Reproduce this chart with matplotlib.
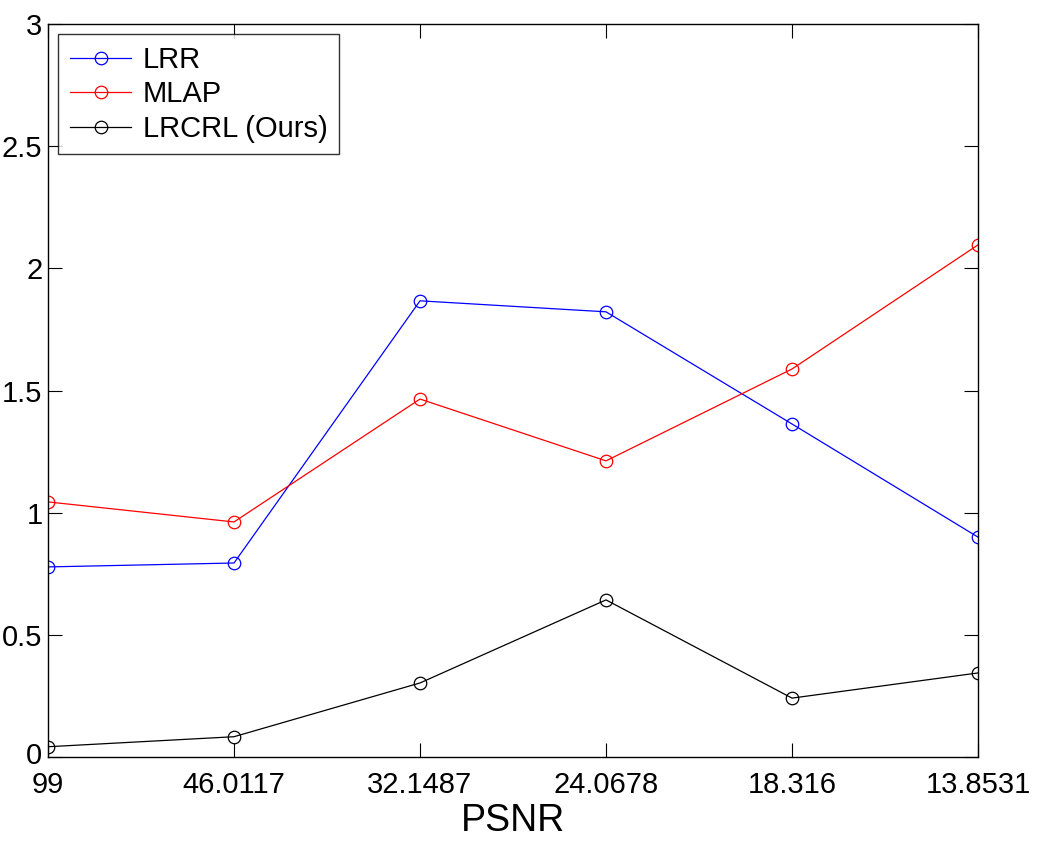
import numpy as np
import matplotlib.pyplot as plt
import matplotlib.transforms as mtransforms

plt.rcParams['font.family'] = ['Liberation Sans', 'DejaVu Sans']

# PSNR levels (categorical x axis)
psnr_labels = ["99", "46.0117", "32.1487", "24.0678", "18.316", "13.8531"]
lrr = [0.778, 0.794, 1.867, 1.822, 1.363, 0.900]
mlap = [1.044, 0.962, 1.465, 1.212, 1.588, 2.096]
lrcrl = [0.042, 0.083, 0.303, 0.643, 0.241, 0.344]

x = np.arange(len(psnr_labels))

fig = plt.figure(figsize=(10.38, 8.42), dpi=100)
ax = fig.add_axes([48/1038, 1-757/842, (978-48)/1038, (757-24)/842])

style = dict(marker='o', markersize=9, markerfacecolor='none', linewidth=0.9, markeredgewidth=0.9)
ax.plot(x, lrr, color='blue', label='LRR', **style)
ax.plot(x, mlap, color='red', label='MLAP', **style)
ax.plot(x, lrcrl, color='black', label='LRCRL (Ours)', **style)

ax.set_xlim(0, 5)
ax.set_ylim(0, 3)
ax.set_xticks(x)
ax.set_xticklabels(psnr_labels)
ax.set_yticks(np.arange(0, 3.01, 0.5))
ax.set_yticklabels(["0", "0.5", "1", "1.5", "2", "2.5", "3"])
ax.tick_params(direction='in', length=10, width=0.8, top=True, right=True,
               labelsize=21)
ax.tick_params(axis='x', pad=10)
ax.tick_params(axis='y', pad=4)
for s in ax.spines.values():
    s.set_linewidth(1.0)

# nudge the "0" y label up a little so it doesn't collide with "99"
lbl0 = ax.get_yticklabels()[0]
lbl0.set_transform(lbl0.get_transform() +
                   mtransforms.ScaledTranslation(0, 4/100, fig.dpi_scale_trans))

ax.set_xlabel("PSNR", fontsize=27, labelpad=3)

leg = ax.legend(loc='upper left', fontsize=21, frameon=True, fancybox=False,
                edgecolor='black', borderaxespad=0.35, handlelength=2.1,
                labelspacing=0.22, borderpad=0.4, handletextpad=0.4)
leg.get_frame().set_linewidth(1.0)

fig.savefig("out.png", dpi=100)
